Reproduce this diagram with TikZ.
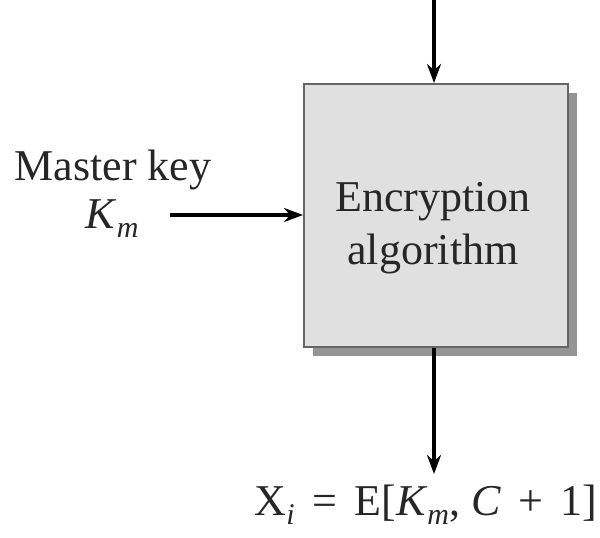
\documentclass[tikz,border=0pt]{standalone}
\usepackage{fontspec}
\setmainfont{Liberation Serif}
\usetikzlibrary{arrows.meta}
\newcommand\mysub[1]{\raisebox{-9pt}{\fontsize{30}{30}\selectfont\itshape #1}}
\newcommand\wsp{\hspace{0.4em}}
\begin{document}
\begin{tikzpicture}[x=1pt,y=-1pt,
  conn/.style={line width=3.2pt,-{Stealth[length=19pt,width=14pt]}},
  lbl/.style={font=\fontsize{44}{53}\selectfont,inner sep=0pt,text=black!85}]
\useasboundingbox (0,0) rectangle (600,538);
\fill[black!42] (313,93) rectangle (577,356);
\node[draw=black!60,line width=2pt,fill=black!12,minimum width=264pt,minimum height=263pt,anchor=north west,inner sep=0pt] (box) at (303,83) {};
\node[lbl,align=center] (txt) at (433,228) {Encryption\\algorithm};
\coordinate (top) at (434,0);
\draw[conn] (top) -- (box.north -| top);
\node[lbl,anchor=base] (mk) at (113,180) {Master key};
\node[lbl,anchor=base] (km) at (112,228) {\textit{K}\mysub{m}};
\coordinate (lstart) at (170,215);
\draw[conn] (lstart) -- (lstart -| box.west);
\node[lbl,anchor=base] (out) at (426,515) {X\mysub{i}\wsp=\wsp E[\textit{K}\mysub{m}, \textit{C}\wsp+\wsp 1]};
\coordinate (bot) at (434,474);
\draw[conn] (box.south -| bot) -- (bot);
\end{tikzpicture}
\end{document}
